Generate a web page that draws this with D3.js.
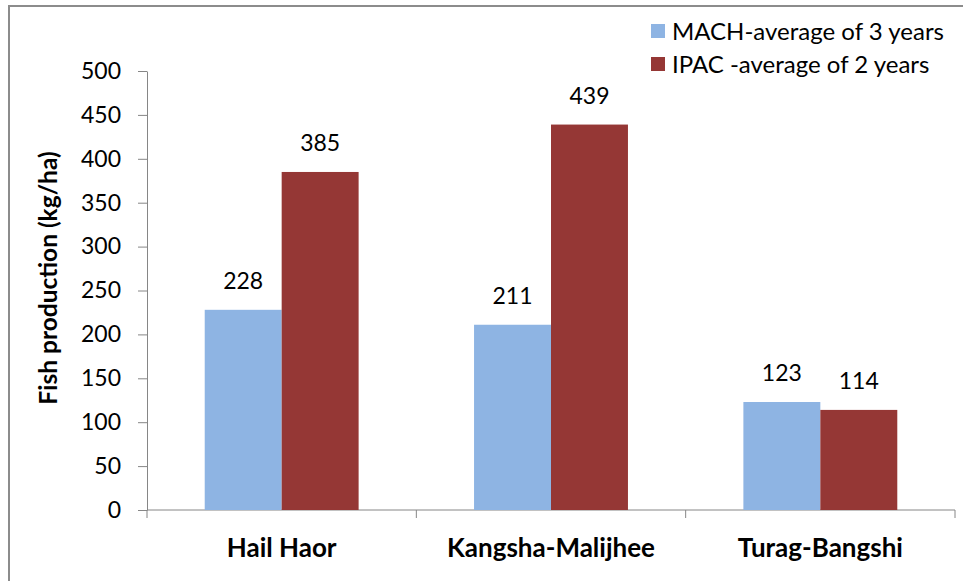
<!DOCTYPE html>
<html>
<head>
<meta charset="utf-8">
<script src="https://cdn.jsdelivr.net/npm/d3@7"></script>
<style>
  body { margin: 0; background: #fff; }
  svg { font-family: Lato, "Open Sans", sans-serif; }
</style>
</head>
<body>
<div id="chart"></div>
<script>
// data
var sites = ["Hail Haor", "Kangsha-Malijhee", "Turag-Bangshi"];
var seriesNames = ["MACH-average of 3 years", "IPAC -average of 2 years"];
var mach = [228, 211, 123];
var ipac = [385, 439, 114];
var yTicks = [0, 50, 100, 150, 200, 250, 300, 350, 400, 450, 500];
var colors = ["#8eb4e3", "#953735"];

var width = 963, height = 581;
var svg = d3.select("#chart").append("svg")
  .attr("width", width)
  .attr("height", height);

// outer frame
svg.append("rect")
  .attr("x", 9).attr("y", 6)
  .attr("width", 970).attr("height", 600)
  .attr("fill", "none")
  .attr("stroke", "#8c8c8c")
  .attr("stroke-width", 2);

var mLeft = 147, mRight = 955, mTop = 71, mBottom = 510;

var x0 = d3.scaleBand().domain(sites).range([mLeft, mRight]).padding(0);
var x1 = d3.scaleBand().domain([0, 1]).range([0, x0.bandwidth()])
  .paddingInner(0).paddingOuter(0.75);
var y = d3.scaleLinear().domain([0, 500]).range([mBottom, mTop]);

// y axis
var yAxis = svg.append("g")
  .attr("transform", "translate(" + mLeft + ",0)")
  .call(d3.axisLeft(y).tickValues(yTicks).tickSize(9).tickSizeOuter(0).tickPadding(17));
yAxis.select(".domain").attr("stroke", "#868686");
yAxis.selectAll(".tick line").attr("stroke", "#868686");
yAxis.selectAll("text")
  .attr("font-size", 23)
  .attr("fill", "#000")
  .attr("font-family", "Lato, sans-serif");

// x axis: ticks at category boundaries
svg.append("line")
  .attr("x1", mLeft).attr("x2", mRight)
  .attr("y1", mBottom).attr("y2", mBottom)
  .attr("stroke", "#868686");
var bounds = sites.map(function(d) { return x0(d); }).concat([mRight]);
svg.selectAll(".xtick")
  .data(bounds)
  .enter().append("line")
  .attr("class", "xtick")
  .attr("x1", function(d) { return d; })
  .attr("x2", function(d) { return d; })
  .attr("y1", mBottom).attr("y2", mBottom + 8)
  .attr("stroke", "#868686");

svg.selectAll(".cat")
  .data(sites)
  .enter().append("text")
  .attr("class", "cat")
  .attr("x", function(d) { return x0(d) + x0.bandwidth() / 2; })
  .attr("y", 557)
  .attr("text-anchor", "middle")
  .attr("font-size", 26)
  .attr("font-weight", "bold")
  .text(function(d) { return d; });

// y axis title
svg.append("text")
  .attr("transform", "translate(57,278) rotate(-90)")
  .attr("text-anchor", "middle")
  .attr("font-size", 24.5)
  .attr("font-weight", "bold")
  .text("Fish production (kg/ha)");

// bars
var series = [mach, ipac];
series.forEach(function(vals, s) {
  var g = svg.append("g");
  g.selectAll("rect")
    .data(vals)
    .enter().append("rect")
    .attr("x", function(d, i) { return x0(sites[i]) + x1(s); })
    .attr("y", function(d) { return y(d); })
    .attr("width", x1.bandwidth())
    .attr("height", function(d) { return mBottom - y(d); })
    .attr("fill", colors[s]);
  g.selectAll("text")
    .data(vals)
    .enter().append("text")
    .attr("x", function(d, i) { return x0(sites[i]) + x1(s) + x1.bandwidth() / 2; })
    .attr("y", function(d) { return y(d) - 21; })
    .attr("text-anchor", "middle")
    .attr("font-size", 23)
    .text(function(d) { return d; });
});

// legend
var legend = svg.selectAll(".leg")
  .data(seriesNames)
  .enter().append("g")
  .attr("class", "leg")
  .attr("transform", function(d, i) { return "translate(651," + (24 + i * 33) + ")"; });
legend.append("rect")
  .attr("width", 14).attr("height", 14)
  .attr("fill", function(d, i) { return colors[i]; });
legend.append("text")
  .attr("x", 21).attr("y", 16)
  .attr("font-size", 24)
  .text(function(d) { return d; });
</script>
</body>
</html>
